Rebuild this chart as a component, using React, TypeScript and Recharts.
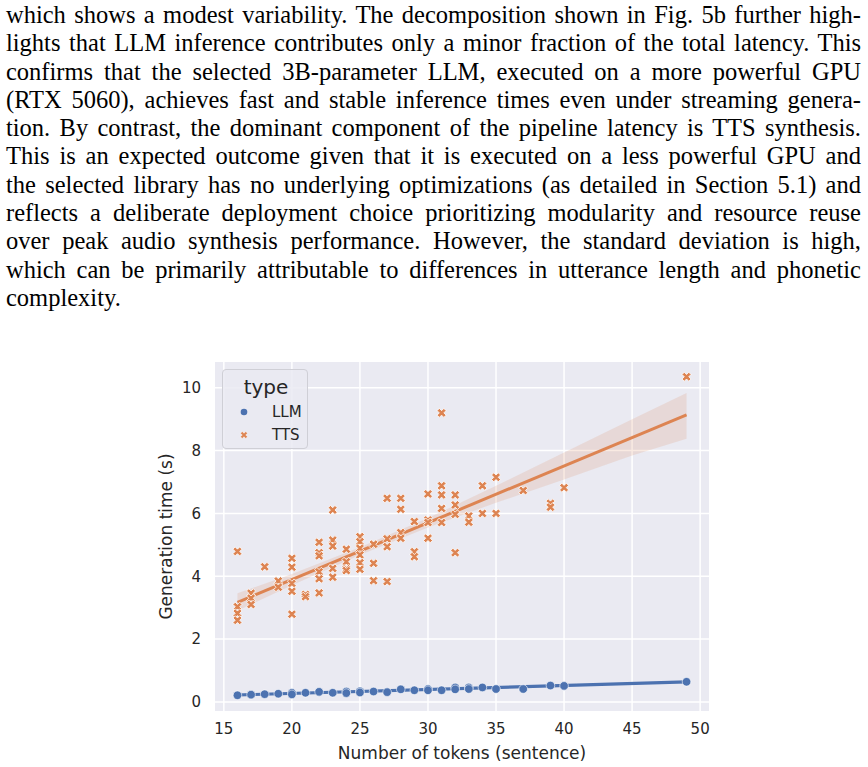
import { ComposedChart, Scatter, Line, Area, XAxis, YAxis, CartesianGrid, Legend } from 'recharts';

const paragraph = [
  'which shows a modest variability. The decomposition shown in Fig. 5b further high-',
  'lights that LLM inference contributes only a minor fraction of the total latency. This',
  'confirms that the selected 3B-parameter LLM, executed on a more powerful GPU',
  '(RTX 5060), achieves fast and stable inference times even under streaming genera-',
  'tion. By contrast, the dominant component of the pipeline latency is TTS synthesis.',
  'This is an expected outcome given that it is executed on a less powerful GPU and',
  'the selected library has no underlying optimizations (as detailed in Section 5.1) and',
  'reflects a deliberate deployment choice prioritizing modularity and resource reuse',
  'over peak audio synthesis performance. However, the standard deviation is high,',
  'which can be primarily attributable to differences in utterance length and phonetic',
  'complexity.',
];

// LLM generation time per sentence length
const llmTokens = [16, 17, 18, 19, 20, 20, 21, 22, 23, 24, 24, 25, 25, 26, 27, 28, 29, 30, 30, 31, 32, 32, 33, 33, 34, 35, 37, 39, 40, 49];
const llmTime = [0.21, 0.23, 0.245, 0.26, 0.29, 0.24, 0.29, 0.32, 0.29, 0.33, 0.28, 0.34, 0.3, 0.33, 0.31, 0.4, 0.37, 0.41, 0.37, 0.37, 0.46, 0.4, 0.46, 0.41, 0.46, 0.41, 0.41, 0.52, 0.51, 0.64];

// TTS generation time per sentence length
const ttsTokens = [
  16, 16, 16, 16, 17, 17, 17, 18, 19, 19, 20, 20, 20, 20, 20, 21, 21,
  22, 22, 22, 22, 22, 22, 23, 23, 23, 23, 23, 24, 24, 24, 24,
  25, 25, 25, 25, 25, 25, 26, 26, 26, 27, 27, 27, 27, 28, 28, 28, 28,
  29, 29, 29, 30, 30, 30, 30, 31, 31, 31, 31, 31, 32, 32, 32, 32,
  33, 33, 34, 34, 35, 35, 37, 39, 39, 40, 49,
];
const ttsTime = [
  4.79, 3.03, 2.82, 2.6, 3.46, 3.3, 3.1, 4.3, 3.85, 3.65, 4.57, 4.29, 3.77, 3.52, 2.79, 3.42, 3.35,
  5.08, 4.75, 4.65, 4.14, 3.92, 3.47, 6.11, 5.15, 4.96, 4.25, 3.97, 4.86, 4.46, 4.23, 4.18,
  5.26, 5.1, 4.89, 4.68, 4.43, 4.22, 5.02, 4.41, 3.86, 6.48, 5.19, 4.94, 3.83, 6.48, 6.13, 5.39, 5.21,
  5.74, 4.78, 4.62, 6.62, 5.79, 5.71, 5.21, 9.2, 6.88, 6.59, 6.16, 5.71, 6.59, 6.27, 5.97, 4.75,
  5.92, 5.72, 6.88, 6.0, 7.15, 6.0, 6.73, 6.32, 6.2, 6.82, 10.35,
];

// regression fits
const trendTokens = [16, 49];
const llmTrend = [0.22, 0.635];
const ttsTrend = [3.17, 9.14];
const bandTokens = [16, 20, 25, 30, 35, 40, 45, 49];
const ttsBandLow = [2.9, 3.71, 4.68, 5.55, 6.34, 7.08, 7.84, 8.38];
const ttsBandHigh = [3.46, 4.07, 4.92, 5.85, 6.88, 7.94, 9.0, 9.83];

const xTicks = [15, 20, 25, 30, 35, 40, 45, 50];
const yTicks = [0, 2, 4, 6, 8, 10];

const BLUE = '#4C72B0';
const ORANGE = '#DD8452';
const FONT = '"DejaVu Sans", sans-serif';

const llmData = llmTokens.map((x, i) => ({ x, y: llmTime[i] }));
const ttsData = ttsTokens.map((x, i) => ({ x, y: ttsTime[i] }));
const llmTrendData = trendTokens.map((x, i) => ({ x, y: llmTrend[i] }));
const ttsTrendData = trendTokens.map((x, i) => ({ x, y: ttsTrend[i] }));
const ttsBandData = bandTokens.map((x, i) => ({ x, range: [ttsBandLow[i], ttsBandHigh[i]] }));

function xPath(cx: number, cy: number, s: number) {
  const pts = [
    [-0.25, -0.5], [0, -0.25], [0.25, -0.5], [0.5, -0.25], [0.25, 0], [0.5, 0.25],
    [0.25, 0.5], [0, 0.25], [-0.25, 0.5], [-0.5, 0.25], [-0.25, 0], [-0.5, -0.25],
  ];
  return 'M' + pts.map(([a, b]) => `${cx + a * s},${cy + b * s}`).join('L') + 'Z';
}

const CrossMark = (props: any) => (
  <path d={xPath(props.cx, props.cy, 9)} fill={ORANGE} stroke="#ffffff" strokeWidth={0.8} />
);

const DotMark = (props: any) => (
  <circle cx={props.cx} cy={props.cy} r={4.3} fill={BLUE} stroke="#ffffff" strokeWidth={0.6} />
);

function LegendBox() {
  return (
    <div
      style={{
        width: 86,
        height: 80,
        boxSizing: 'border-box',
        border: '1px solid #cfcfd6',
        borderRadius: 4,
        background: 'rgba(234,234,242,0.85)',
        fontFamily: FONT,
        color: '#262626',
        position: 'relative',
      }}
    >
      <div style={{ position: 'absolute', left: 0, width: 86, top: 4, textAlign: 'center', fontSize: 20, lineHeight: '26px' }}>type</div>
      <svg style={{ position: 'absolute', left: 14, top: 35 }} width={14} height={14}>
        <circle cx={7} cy={7} r={3.3} fill={BLUE} />
      </svg>
      <div style={{ position: 'absolute', left: 49, top: 32, fontSize: 15, lineHeight: '20px' }}>LLM</div>
      <svg style={{ position: 'absolute', left: 14, top: 58 }} width={14} height={14}>
        <path d={xPath(7, 7, 7)} fill={ORANGE} stroke="#fff" strokeWidth={0.5} />
      </svg>
      <div style={{ position: 'absolute', left: 49, top: 55, fontSize: 15, lineHeight: '20px' }}>TTS</div>
    </div>
  );
}

export default function App() {
  return (
    <div style={{ position: 'absolute', left: 0, top: 0, width: 868, height: 767, background: '#fff' }}>
      <div
        style={{
          position: 'absolute',
          left: 6,
          top: 1,
          width: 855,
          fontFamily: '"Liberation Serif", serif',
          fontSize: 24.5,
          lineHeight: '28.3px',
          color: '#000',
        }}
      >
        {paragraph.map((line, i) => (
          <div
            key={i}
            style={{
              textAlign: i === paragraph.length - 1 ? 'left' : 'justify',
              textAlignLast: i === paragraph.length - 1 ? 'left' : 'justify',
              height: 28.3,
            }}
          >
            {line}
          </div>
        ))}
      </div>

      <div style={{ position: 'absolute', left: 0, top: 330 }}>
        <ComposedChart width={868} height={437} margin={{ top: 32, right: 159, bottom: 26, left: 175 }}>
          <CartesianGrid fill="#EAEAF2" stroke="#ffffff" strokeWidth={1.5} horizontalValues={yTicks} verticalValues={xTicks} />
          <XAxis
            type="number"
            dataKey="x"
            domain={[14.35, 50.65]}
            ticks={xTicks}
            allowDataOverflow
            axisLine={false}
            tickLine={false}
            tickSize={0}
            tickMargin={12}
            height={30}
            tick={{ fill: '#262626', fontSize: 15, fontFamily: FONT }}
            label={{
              content: ({ viewBox }: any) => (
                <text x={viewBox.x + viewBox.width / 2} y={viewBox.y + 42} textAnchor="middle" dominantBaseline="central" fill="#262626" fontSize={17} fontFamily={FONT}>
                  Number of tokens (sentence)
                </text>
              ),
            }}
          />
          <YAxis
            type="number"
            dataKey="y"
            domain={[-0.29, 10.82]}
            ticks={yTicks}
            allowDataOverflow
            axisLine={false}
            tickLine={false}
            tickSize={0}
            tickMargin={14}
            width={40}
            tick={{ fill: '#262626', fontSize: 15, fontFamily: FONT }}
            label={{
              content: ({ viewBox }: any) => {
                const cx = viewBox.x - 9;
                const cy = viewBox.y + viewBox.height / 2;
                return (
                  <text x={cx} y={cy} transform={`rotate(-90 ${cx} ${cy})`} textAnchor="middle" dominantBaseline="central" fill="#262626" fontSize={17} fontFamily={FONT}>
                    Generation time (s)
                  </text>
                );
              },
            }}
          />
          <Scatter name="LLM" data={llmData} shape={DotMark} isAnimationActive={false} />
          <Line data={llmTrendData} dataKey="y" type="linear" stroke={BLUE} strokeWidth={3.2} dot={false} activeDot={false} legendType="none" isAnimationActive={false} />
          <Scatter name="TTS" data={ttsData} shape={CrossMark} isAnimationActive={false} />
          <Area data={ttsBandData} dataKey="range" type="linear" stroke="none" fill={ORANGE} fillOpacity={0.17} activeDot={false} legendType="none" isAnimationActive={false} />
          <Line data={ttsTrendData} dataKey="y" type="linear" stroke={ORANGE} strokeWidth={3} dot={false} activeDot={false} legendType="none" isAnimationActive={false} />
          <Legend
            layout="vertical"
            align="center"
            verticalAlign="middle"
            content={() => <LegendBox />}
            wrapperStyle={{ left: 222, top: 39, width: 86, height: 80 }}
          />
        </ComposedChart>
      </div>
    </div>
  );
}
